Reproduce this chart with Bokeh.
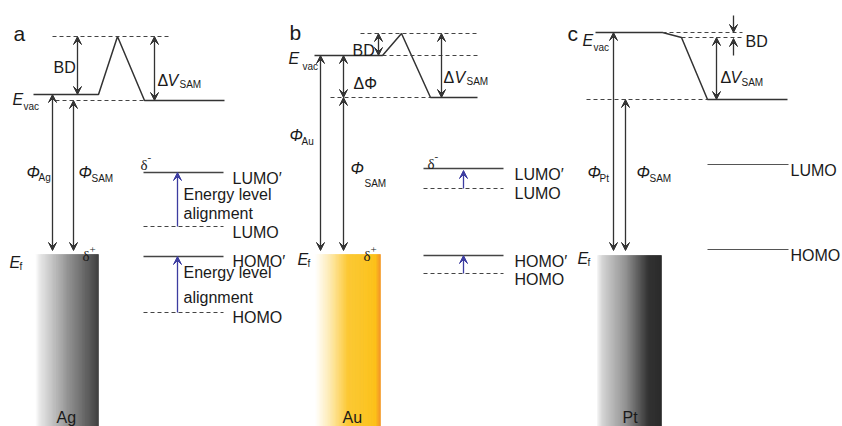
import numpy as np
from bokeh.plotting import figure
from bokeh.models import Range1d, Arrow, VeeHead, ColumnDataSource
from bokeh.core.properties import value
from bokeh.embed import file_html
from bokeh.resources import INLINE

# ---------------- data (schematic energy levels, image px coords) -------------
metals = ["Ag", "Au", "Pt"]
block_left = [35, 315, 597]
block_right = [98, 380, 661]
block_top = [254, 254, 255]
block_bottom = [430, 430, 430]

# vacuum-level profiles
evac_a_x = [33, 98, 117, 144, 224]
evac_a_y = [94, 94, 36, 100, 100]
evac_b_x = [314, 382, 401, 430, 477]
evac_b_y = [55, 55, 33, 97, 97]
evac_c_x = [595, 662, 681, 707, 787]
evac_c_y = [32, 32, 37, 99, 99]

# dashed guide / unshifted levels
dash_x0 = [52, 55, 143, 143, 360, 382, 330, 423, 423, 662, 681, 586]
dash_x1 = [168, 144, 223, 223, 477, 477, 430, 503, 503, 742, 742, 707]
dash_y = [36, 100, 226, 312, 33, 55, 97, 188, 273, 32, 37, 99]

# solid (shifted) molecular levels
level_x0 = [143, 143, 423, 423]
level_x1 = [223, 223, 503, 503]
level_y = [172, 256, 168, 255]
pt_level_x0 = [707, 707]
pt_level_x1 = [788, 788]
pt_level_y = [164, 249]

# double-headed arrows
darr_x = [77, 154, 52, 73, 378, 343, 441, 320, 343, 716, 613, 625]
darr_y0 = [36, 36, 94, 100, 33, 55, 33, 55, 97, 37, 32, 99]
darr_y1 = [94, 100, 250, 250, 55, 97, 97, 250, 250, 99, 250, 250]
# single arrows (BD in c)
sarr_x = [733, 733]
sarr_y0 = [15, 55]
sarr_y1 = [32, 38]
# blue level-alignment arrows
barr_x = [177, 177, 463, 463]
barr_y0 = [226, 312, 188, 273]
barr_y1 = [172, 256, 170, 255]

# texts
main_x = [53, 232, 183, 183, 232, 232, 183, 183, 232, 56, 352, 353, 514, 514, 514, 514, 342, 745, 790, 790, 622,
          157, 443, 720]
main_y = [67, 178, 194, 213, 232, 261, 272, 297, 317, 417, 50, 83, 174, 193, 261, 279, 417, 41, 170, 255, 417,
          80, 77, 77]
main_t = ["BD", "LUMO\u2032", "Energy level", "alignment", "LUMO", "HOMO\u2032", "Energy level", "alignment", "HOMO",
          "Ag", "BD", "\u0394\u03a6", "LUMO\u2032", "LUMO", "HOMO\u2032", "HOMO", "Au", "BD", "LUMO", "HOMO", "Pt",
          "\u0394", "\u0394", "\u0394"]
ital_x = [12, 9, 26, 78, 167, 288, 297, 289, 350, 454, 582, 577, 587, 636, 730]
ital_y = [99, 262, 172, 172, 80, 58, 259, 135, 168, 77, 40, 258, 172, 172, 77]
ital_t = ["E", "E", "\u03a6", "\u03a6", "V", "E", "E", "\u03a6", "\u03a6", "V", "E", "E", "\u03a6", "\u03a6", "V"]
sub_x = [23, 19, 38, 91, 179, 302, 307, 301, 364, 466, 593, 587, 599, 649, 741]
sub_y = [106, 266, 177, 178, 84, 66, 263, 141, 183, 81, 47, 262, 178, 178, 82]
sub_t = ["vac", "f", "Ag", "SAM", "SAM", "vac", "f", "Au", "SAM", "SAM", "vac", "f", "Pt", "SAM", "SAM"]
letter_x = [13, 289, 567]
letter_y = [33, 32, 33]
letter_t = ["a", "b", "c"]
delta_x = [82, 140, 363, 427]
delta_y = [255, 164, 255, 163]
delta_t = ["\u03b4", "\u03b4", "\u03b4", "\u03b4"]
sup_x = [89, 147, 370, 434]
sup_y = [249, 157, 249, 156]
sup_t = ["+", "-", "+", "-"]

# gradient styles for the metal blocks (position, colour)
grad_stops = {
    "Ag": ([0.0, 0.08, 0.45, 0.85, 1.0], ["#ffffff", "#e6e6e6", "#a0a0a0", "#555555", "#383838"]),
    "Au": ([0.0, 0.2, 0.5, 0.93, 1.0], ["#ffffff", "#feecb8", "#fcc935", "#fcbf10", "#f29020"]),
    "Pt": ([0.0, 0.08, 0.45, 0.8, 1.0], ["#f4f4f4", "#d2d2d2", "#8c8c8c", "#2a2a2a", "#222222"]),
}

# ---------------- figure ----------------
W, H = 842, 426
p = figure(width=W, height=H, x_range=Range1d(0, W), y_range=Range1d(H, 0),
           output_backend="svg", toolbar_location=None, min_border=0)
p.axis.visible = False
p.grid.visible = False
p.outline_line_color = None
p.background_fill_color = "white"


def hex2rgb(h):
    return np.array([int(h[i:i + 2], 16) for i in (1, 3, 5)], dtype=float)


# metal blocks as gradient strips
for m, l, r, t, b in zip(metals, block_left, block_right, block_top, block_bottom):
    pos, cols = grad_stops[m]
    rgb = np.array([hex2rgb(c) for c in cols])
    n = 64
    edges = np.linspace(l, r, n + 1)
    fr = (np.arange(n) + 0.5) / n
    colors = []
    for f in fr:
        c = [np.interp(f, pos, rgb[:, k]) for k in range(3)]
        colors.append("#%02x%02x%02x" % tuple(int(round(v)) for v in c))
    src = ColumnDataSource(dict(left=edges[:-1], right=edges[1:], top=[t] * n, bottom=[b] * n, color=colors))
    p.quad(left="left", right="right", top="top", bottom="bottom", fill_color="color", line_color="color",
           line_width=0.6, source=src)

LC = "#333333"
# profiles
for xs, ys in [(evac_a_x, evac_a_y), (evac_b_x, evac_b_y), (evac_c_x, evac_c_y)]:
    p.line(xs, ys, line_color=LC, line_width=1.5)

p.segment(x0=dash_x0, y0=dash_y, x1=dash_x1, y1=dash_y, line_color="#444444", line_width=1.1, line_dash="4 3")
p.segment(x0=level_x0, y0=level_y, x1=level_x1, y1=level_y, line_color="#444444", line_width=1.3)
p.segment(x0=pt_level_x0, y0=pt_level_y, x1=pt_level_x1, y1=pt_level_y, line_color="#555555", line_width=1.1)

# arrows
dsrc = ColumnDataSource(dict(x=darr_x, y0=darr_y0, y1=darr_y1))
p.add_layout(Arrow(x_start="x", y_start="y0", x_end="x", y_end="y1", source=dsrc,
                   start=VeeHead(size=8, fill_color=LC, line_color=LC, line_width=1),
                   end=VeeHead(size=8, fill_color=LC, line_color=LC, line_width=1),
                   line_color=LC, line_width=1.3))
ssrc = ColumnDataSource(dict(x=sarr_x, y0=sarr_y0, y1=sarr_y1))
p.add_layout(Arrow(x_start="x", y_start="y0", x_end="x", y_end="y1", source=ssrc,
                   end=VeeHead(size=8, fill_color=LC, line_color=LC, line_width=1),
                   line_color=LC, line_width=1.3))
BC = "#3c3ca0"
bsrc = ColumnDataSource(dict(x=barr_x, y0=barr_y0, y1=barr_y1))
p.add_layout(Arrow(x_start="x", y_start="y0", x_end="x", y_end="y1", source=bsrc,
                   end=VeeHead(size=8, fill_color=BC, line_color=BC, line_width=1),
                   line_color=BC, line_width=1.3))

# texts
F = value("Liberation Sans")
TC = "#1a1a1a"
p.text(main_x, main_y, text=main_t, text_font=F, text_font_size=value("16px"), text_color=TC,
       text_align="left", text_baseline="alphabetic")
p.text(ital_x, ital_y, text=ital_t, text_font=F, text_font_size=value("16px"), text_font_style="italic",
       text_color=TC, text_align="left", text_baseline="alphabetic")
p.text(sub_x, sub_y, text=sub_t, text_font=F, text_font_size=value("10px"), text_color=TC,
       text_align="left", text_baseline="alphabetic")
p.text(letter_x, letter_y, text=letter_t, text_font=F, text_font_size=value("21px"), text_color=TC,
       text_align="left", text_baseline="alphabetic")
p.text(delta_x, delta_y, text=delta_t, text_font=value("Liberation Serif"), text_font_size=value("15px"),
       text_color=TC, text_align="left", text_baseline="alphabetic")
p.text(sup_x, sup_y, text=sup_t, text_font=value("Liberation Serif"), text_font_size=value("11px"),
       text_color=TC, text_align="left", text_baseline="alphabetic")

open("out.html", "w").write(file_html(p, INLINE))
